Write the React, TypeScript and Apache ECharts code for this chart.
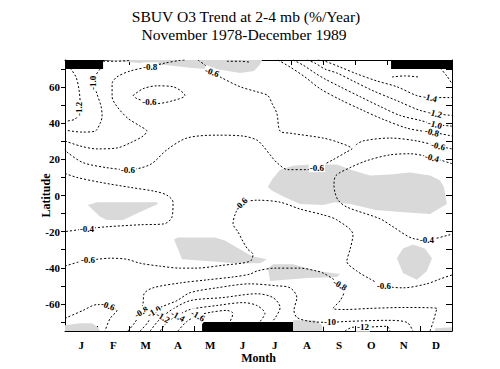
import React, { useEffect, useRef } from 'react';
import * as echarts from 'echarts';

const titleLine1 = 'SBUV O3 Trend at 2-4 mb (%/Year)';
const titleLine2 = 'November 1978-December 1989';
const months = ['J', 'F', 'M', 'A', 'M', 'J', 'J', 'A', 'S', 'O', 'N', 'D'];
const monthBoundaries = [1, 2, 3, 4, 5, 6, 7, 8, 9, 10, 11];
const monthCenters = [0.5, 1.5, 2.5, 3.5, 4.5, 5.5, 6.5, 7.5, 8.5, 9.5, 10.5, 11.5];
const latLabels = [-60, -40, -20, 0, 20, 40, 60];
const latTicks = [-70, -60, -50, -40, -30, -20, -10, 0, 10, 20, 30, 40, 50, 60, 70];

// Contour lines: [month (0..12), latitude]
const cN12a = [[0.16, 70.5], [0.34, 65.6], [0.43, 59.1], [0.47, 50.9], [0.43, 45.4], [0.31, 42.2], [0, 41.1]];
const cN10a = [[1.09, 70.0], [0.96, 66.7], [0.9, 62.3], [0.99, 56.3], [1.12, 49.3], [1.15, 43.8], [1.09, 40.0], [0.93, 35.6], [0.53, 35.1], [0, 36.2]];
const cN08a = [[0, 30.2], [0.47, 27.4], [0.99, 25.8], [1.61, 26.3], [2.02, 29.1], [2.42, 32.9], [2.54, 35.6], [2.33, 38.4], [1.95, 42.7], [1.61, 49.3], [1.46, 54.7], [1.46, 61.8], [1.61, 65.6], [2.02, 68.9], [2.57, 71.1], [3.1, 73.3], [3.57, 74.8], [3.72, 75]];
const cN08top = [[1.18, 74.3], [1.55, 74.3], [2.02, 74.8]];
const cN06top = [[5.02, 74.3], [5.43, 74.3], [5.74, 73.8]];
const cN06ring = [[2.11, 55.3], [2.42, 59.1], [2.85, 60.7], [3.35, 60.2], [3.72, 55.3], [3.35, 52.5], [2.85, 50.9], [2.54, 52.0], [2.23, 53.6], [2.11, 55.3]];
const cN06 = [[4.12, 75], [4.34, 72.2], [4.56, 68.3], [4.81, 65.6], [5.43, 60.2], [5.95, 57.4], [6.29, 55.3], [6.42, 50.9], [6.57, 45.4], [6.67, 35.6], [6.98, 34.5], [8.0, 31.8], [8.53, 29.1], [8.9, 25.8], [8.74, 24.2], [8.31, 19.8], [7.81, 15.4], [7.5, 14.3], [6.91, 14.3], [6.57, 18.2], [6.36, 22.5], [6.14, 27.4], [5.95, 30.7], [5.52, 32.9], [4.71, 33.4], [3.78, 31.8], [3.16, 25.3], [2.64, 17.1], [1.95, 14.3], [1.3, 15.4], [0.56, 18.2], [0.09, 23.6], [0, 25.3]];
const cN06r = [[9.02, 28.0], [9.24, 30.2], [10.08, 31.8], [10.91, 30.2], [11.57, 27.4], [12, 25.8]];
const cN08r = [[6.6, 75], [6.98, 71.1], [7.44, 65.6], [7.91, 59.1], [8.53, 53.1], [9.24, 47.1], [9.86, 42.2], [10.6, 37.3], [11.1, 35.6], [11.38, 35.1], [12, 32.9]];
const cN10r = [[7.07, 75], [7.38, 72.2], [7.75, 67.8], [8.06, 64.5], [8.53, 60.2], [9.15, 54.7], [9.77, 49.3], [10.39, 44.3], [11.01, 41.6], [11.47, 39.4], [12, 38.4]];
const cN12r = [[7.5, 75], [7.75, 73.3], [8.06, 70.0], [8.43, 67.8], [8.93, 63.4], [9.55, 58.0], [10.29, 52.5], [11.01, 47.1], [11.47, 45.4], [12, 44.3]];
const cN14r = [[7.84, 75], [8.06, 74.3], [8.53, 71.1], [9.05, 67.3], [9.67, 63.4], [10.29, 60.2], [10.91, 55.3], [11.32, 54.2], [12, 54.2]];
const cN16r = [[11.63, 70.5], [11.84, 66.2], [12, 61.8]];
const cN16s = [[10.14, 65.6], [10.54, 66.2], [10.95, 65.6]];
const cE04r = [[12, 17.6], [11.38, 20.9], [10.7, 23.1], [10.08, 22.5], [9.36, 19.3], [8.84, 15.4], [8.4, 11.0], [8.34, 5.6], [8.37, 1.8], [8.47, -2.6], [8.74, -6.4], [9.77, -12.9], [10.17, -17.3], [10.79, -23.8], [11.22, -24.4], [11.94, -21.7], [12, -21.1]];
const cE04l = [[0, 12.2], [0.37, 10.0], [1.09, 7.3], [2.02, 4.5], [2.79, 2.3], [3.16, 0.2], [3.35, -3.7], [3.32, -11.8], [3.07, -15.7], [2.33, -16.2], [1.3, -17.3], [0.68, -18.4], [0, -20.0]];
const cS06m = [[0, -39.1], [0.4, -36.9], [0.71, -35.8], [0.99, -35.3], [1.4, -34.7], [1.92, -35.3], [2.33, -37.5], [2.95, -39.1], [3.57, -40.2], [4.03, -40.2], [4.9, -38.6], [5.74, -36.4], [5.83, -32.6], [5.67, -29.8], [5.52, -25.5], [5.36, -20.0], [5.21, -15.7], [5.27, -10.7], [5.46, -4.7], [5.95, -2.6], [6.67, -3.7], [7.29, -7.5], [8.0, -10.7], [8.43, -13.5], [8.93, -21.7], [8.84, -29.8], [8.74, -36.4], [9.05, -41.8], [9.46, -46.2], [9.89, -50.0], [10.48, -51.1], [11.22, -48.9], [11.63, -46.2], [12, -44.0]];
const cS08 = [[1.95, -75], [2.17, -70.2], [2.36, -64.2], [2.42, -59.8], [2.45, -54.4], [2.73, -51.1], [3.57, -48.4], [4.4, -46.7], [5.21, -45.1], [5.74, -43.5], [5.95, -41.8], [6.51, -40.2], [7.29, -40.2], [7.81, -41.8], [8.0, -42.9], [8.31, -46.2], [8.53, -49.5], [8.65, -53.3], [8.53, -58.2], [8.31, -62.5], [8.68, -63.1], [9.46, -62.5], [10.48, -62.0], [11.53, -62.5], [11.41, -70.2], [11.32, -75]];
const cS10 = [[2.33, -75], [2.57, -70.2], [2.73, -64.7], [2.95, -62.0], [3.47, -58.2], [3.88, -53.8], [4.71, -51.1], [5.74, -48.9], [6.57, -50.0], [6.98, -51.1], [7.19, -56.5], [7.1, -63.6], [7.19, -67.5], [7.6, -69.7], [8.22, -70.2], [8.74, -69.7], [9.98, -69.1], [10.6, -70.2], [10.79, -75]];
const cS12 = [[2.64, -75], [2.85, -70.2], [3.04, -66.9], [3.32, -63.1], [3.88, -58.2], [4.9, -56.5], [5.95, -54.4], [6.45, -56.5], [6.67, -62.0], [6.51, -68.0], [6.42, -69.7]];
const cS12b = [[8.68, -75], [8.93, -72.9], [9.24, -72.9], [9.98, -72.4], [10.08, -75]];
const cS14 = [[2.95, -75], [3.19, -69.7], [3.5, -66.4], [3.88, -63.1], [4.71, -60.9], [5.52, -59.3], [5.95, -60.9], [6.2, -65.3], [6.05, -69.7]];
const cS16 = [[3.5, -75], [3.78, -69.7], [4.12, -66.4], [4.5, -64.7], [5.02, -63.6], [5.21, -65.3], [5.12, -69.7]];
const cS06s = [[0, -68.0], [0.56, -63.6], [0.99, -60.4], [1.33, -60.9], [1.61, -63.6], [1.4, -68.0], [1.24, -75]];

const contours = [cN12a, cN10a, cN08a, cN08top, cN06top, cN06ring, cN06, cN06r, cN08r, cN10r, cN12r, cN14r, cN16r, cN16s, cE04r, cE04l, cS06m, cS08, cS10, cS12, cS12b, cS14, cS16, cS06s];

// Contour labels: [month, latitude, text, rotation in degrees]
const contourLabels: [number, number, string, number][] = [
  [0.43, 48.0, '-1.2', 90], [0.86, 62.3, '-1.0', 90], [2.64, 71.2, '-0.8', 0], [2.62, 51.6, '-0.6', 0],
  [4.56, 68.3, '-0.6', -20], [7.81, 15.4, '-0.6', 0], [1.95, 14.3, '-0.6', 0],
  [11.32, 54.2, '-1.4', -15], [11.47, 45.4, '-1.2', -15], [11.47, 39.4, '-1.0', -15], [11.38, 35.1, '-0.8', -15],
  [11.57, 27.4, '-0.6', -15], [11.38, 20.9, '-0.4', -15], [11.22, -24.4, '-0.4', 0], [0.68, -18.4, '-0.4', 0],
  [0.71, -35.8, '-0.6', 0], [5.46, -4.7, '-0.6', 45], [9.89, -50.0, '-0.6', 0], [8.53, -49.5, '-0.8', -30],
  [1.33, -60.9, '-0.6', -20], [2.36, -64.5, '-0.8', 30], [2.76, -64.2, '-1.0', 30], [3.04, -67.4, '-1.2', -30],
  [3.5, -66.8, '-1.4', -30], [4.12, -66.6, '-1.6', -30], [8.22, -70.2, '-10', 0], [9.24, -72.9, '-12', 0],
];

// Shaded regions (polygons)
const shadeTop = [[1.21, 75], [6.11, 75], [6.05, 72.7], [5.86, 68.9], [5.43, 67.8], [4.87, 69.4], [4.03, 70.5], [3.1, 72.2], [2.02, 73.8], [1.21, 74.8]];
const shadeEqLeft = [[0.71, -5.3], [0.99, -3.7], [2.85, -3.7], [2.88, -4.7], [2.33, -9.1], [1.8, -13.5], [1.3, -13.5], [1.09, -11.8], [0.87, -8.0]];
const shadeSubLeft = [[3.38, -24.4], [3.5, -23.3], [4.65, -23.3], [4.96, -24.9], [5.33, -28.8], [5.8, -33.6], [6.26, -35.3], [6.05, -37.5], [5.27, -37.5], [4.5, -36.4], [3.63, -35.3], [3.53, -30.9]];
const shadeMidLat = [[6.29, -40.2], [6.45, -38.0], [7.07, -38.0], [7.81, -41.8], [8.53, -43.5], [8.43, -45.1], [7.5, -45.6], [6.36, -47.3]];
const shadeEqRight = [[6.29, 4.5], [6.42, 8.9], [6.67, 14.3], [7.07, 16.5], [7.6, 17.1], [8.43, 17.1], [8.93, 13.8], [9.46, 11.1], [10.08, 11.6], [10.7, 12.7], [11.32, 11.1], [11.63, 8.3], [11.75, 4.5], [11.84, -4.7], [11.32, -10.2], [10.39, -9.1], [9.64, -8.0], [8.84, -4.7], [8.37, -3.7], [8.0, -5.3], [7.29, -4.7], [6.82, -0.9], [6.45, 2.3]];
const shadeNov = [[10.29, -34.7], [10.48, -29.3], [10.79, -27.1], [11.16, -29.3], [11.38, -34.7], [11.22, -41.8], [10.91, -46.7], [10.48, -42.9]];
const shadeJanPole = [[0, -75], [0, -71.8], [0.47, -70.7], [0.84, -70.7], [1.02, -72.9], [1.09, -75]];
const shadeJulPole = [[7.07, -69.1], [7.75, -69.1], [7.97, -71.8], [7.97, -75], [7.07, -75]];
const shadeDecPole = [[11.47, -73.5], [12, -72.9], [12, -75], [11.47, -75]];
const shades = [shadeTop, shadeEqLeft, shadeSubLeft, shadeMidLat, shadeEqRight, shadeNov, shadeJanPole, shadeJulPole, shadeDecPole];

// Polar night (no data): [monthStart, monthEnd, latStart, latEnd]
const noData = [[0, 1.18, 70, 75], [10.11, 12, 70, 75], [4.25, 7.07, -75, -70]];

const SERIF = '"Liberation Serif", "Times New Roman", serif';

export default function App() {
  const ref = useRef<HTMLDivElement>(null);
  useEffect(() => {
    if (!ref.current) return;
    const chart = echarts.init(ref.current, undefined, { renderer: 'svg' });
    const series: any[] = [];
    shades.forEach((poly) => {
      series.push({
        type: 'custom',
        xAxisIndex: 0,
        yAxisIndex: 0,
        z: 1,
        silent: true,
        clip: true,
        data: [poly[0]],
        renderItem: (params: any, api: any) => ({
          type: 'polygon',
          shape: { points: poly.map((p) => api.coord(p)) },
          style: { fill: '#d9d9d9', stroke: 'none' },
        }),
      });
    });
    contours.forEach((pts) => {
      series.push({
        type: 'line',
        xAxisIndex: 0,
        yAxisIndex: 0,
        z: 2,
        silent: true,
        showSymbol: false,
        smooth: 0.3,
        data: pts,
        lineStyle: { color: '#000', width: 1, type: [2, 2] },
      });
    });
    series.push({
      type: 'custom',
      xAxisIndex: 0,
      yAxisIndex: 0,
      z: 3,
      silent: true,
      data: noData,
      renderItem: (params: any, api: any) => {
        const p0 = api.coord([api.value(0), api.value(3)]);
        const p1 = api.coord([api.value(1), api.value(2)]);
        return { type: 'rect', shape: { x: p0[0], y: p0[1], width: p1[0] - p0[0], height: p1[1] - p0[1] }, style: { fill: '#000' } };
      },
    });
    series.push({
      type: 'custom',
      xAxisIndex: 0,
      yAxisIndex: 0,
      z: 4,
      silent: true,
      data: contourLabels.map((l) => [l[0], l[1]]),
      renderItem: (params: any, api: any) => {
        const l = contourLabels[params.dataIndex];
        const p = api.coord([l[0], l[1]]);
        return {
          type: 'text',
          x: p[0],
          y: p[1],
          rotation: (l[3] * Math.PI) / 180,
          style: {
            text: l[2],
            fill: '#000',
            font: `bold 9px ${SERIF}`,
            align: 'center',
            verticalAlign: 'middle',
            backgroundColor: '#fff',
            padding: [0, 1],
          },
        };
      },
    });

    chart.setOption({
      animation: false,
      backgroundColor: '#fff',
      graphic: [
        { type: 'text', style: { text: titleLine1, x: 246, y: 8, textAlign: 'center', font: `15.6px ${SERIF}`, fill: '#000' } },
        { type: 'text', style: { text: titleLine2, x: 244, y: 26, textAlign: 'center', font: `15.6px ${SERIF}`, fill: '#000' } },
      ],
      grid: { left: 65, top: 60, width: 387, height: 275 },
      xAxis: [
        {
          type: 'value', min: 0, max: 12, position: 'bottom',
          name: 'Month', nameLocation: 'middle', nameGap: 21, nameMoveOverlap: false,
          nameTextStyle: { fontFamily: SERIF, fontWeight: 'bold', fontSize: 12, color: '#000' },
          axisLine: { show: true, onZero: false, lineStyle: { color: '#000', width: 1 } },
          axisTick: { show: true, inside: true, length: 5, customValues: monthBoundaries, lineStyle: { color: '#000' } },
          axisLabel: { show: true, customValues: monthCenters, margin: 8, formatter: (v: number) => months[Math.floor(v)], fontFamily: SERIF, fontWeight: 'bold', fontSize: 11, color: '#000' },
          splitLine: { show: false },
        },
        {
          type: 'value', min: 0, max: 12, position: 'top',
          axisLine: { show: true, onZero: false, lineStyle: { color: '#000', width: 1 } },
          axisTick: { show: true, inside: true, length: 5, customValues: monthBoundaries, lineStyle: { color: '#000' } },
          axisLabel: { show: false },
          splitLine: { show: false },
        },
      ],
      yAxis: [
        {
          type: 'value', min: -75, max: 75, position: 'left',
          name: 'Latitude', nameLocation: 'middle', nameGap: 13, nameRotate: 90, nameMoveOverlap: false,
          nameTextStyle: { fontFamily: SERIF, fontWeight: 'bold', fontSize: 12, color: '#000' },
          axisLine: { show: true, onZero: false, lineStyle: { color: '#000', width: 1 } },
          axisTick: { show: true, inside: false, length: 4, customValues: latTicks, lineStyle: { color: '#000' } },
          axisLabel: { show: true, customValues: latLabels, margin: 5, fontFamily: SERIF, fontWeight: 'bold', fontSize: 11, color: '#000' },
          splitLine: { show: false },
        },
        {
          type: 'value', min: -75, max: 75, position: 'right',
          axisLine: { show: true, onZero: false, lineStyle: { color: '#000', width: 1 } },
          axisTick: { show: true, inside: true, length: 6, customValues: latTicks, lineStyle: { color: '#000' } },
          axisLabel: { show: false },
          splitLine: { show: false },
        },
      ],
      series,
    });
    return () => chart.dispose();
  }, []);
  return <div ref={ref} style={{ position: 'fixed', left: 0, top: 0, width: 500, height: 369 }} />;
}
